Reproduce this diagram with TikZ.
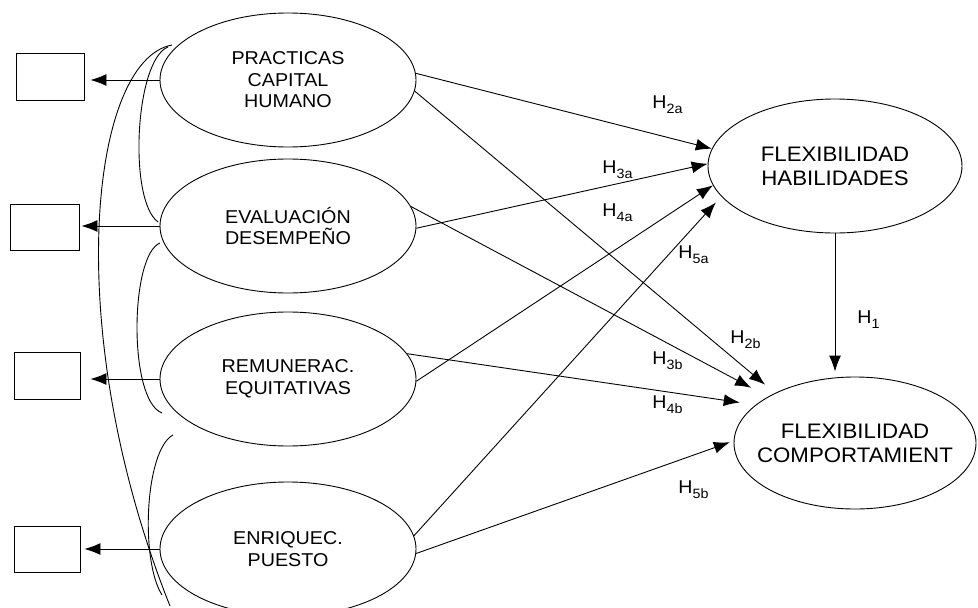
\documentclass[tikz,border=0pt]{standalone}
\usepackage{fontspec}
\setmainfont{Liberation Sans}[FakeStretch=1.06]
\usetikzlibrary{shapes.geometric,arrows.meta}

\newcommand{\hyp}[1]{H\raisebox{-5.5pt}{\fontsize{13.5}{13.5}\selectfont #1}}

\begin{document}
\begin{tikzpicture}[x=1pt,y=-1pt,line width=0.9pt,>={Latex[length=16pt,width=12pt]},
  latent/.style={draw,ellipse,inner sep=0pt,align=center,minimum width=256pt,minimum height=134pt,font=\fontsize{18.6}{21.5}\selectfont},
  outcome/.style={latent,minimum width=254pt,font=\fontsize{21}{24}\selectfont},
  indic/.style={draw,rectangle,inner sep=0pt,minimum width=66pt,minimum height=47pt},
  hlab/.style={anchor=base west,inner sep=0pt,font=\fontsize{18.5}{18.5}\selectfont}]
\useasboundingbox (0,0) rectangle (978,608);

\node[latent] (pc) at (288,80) {PRACTICAS\\CAPITAL\\HUMANO};
\node[latent] (ev) at (288,226) {EVALUACIÓN\\DESEMPEÑO};
\node[latent] (re) at (288,379) {REMUNERAC.\\EQUITATIVAS};
\node[latent] (en) at (288,549) {ENRIQUEC.\\PUESTO};
\node[outcome] (fh) at (835,166) {FLEXIBILIDAD\\HABILIDADES};
\node[outcome,inner xsep=-20pt,minimum width=242pt,minimum height=132pt] (fc) at (855,443) {FLEXIBILIDAD\\COMPORTAMIENT};

\node[indic,minimum width=68pt] (b1) at (50,76.5) {};
\node[indic,minimum width=69pt,minimum height=46pt] (b2) at (44.5,227) {};
\node[indic] (b3) at (47,375.5) {};
\node[indic,minimum height=46pt] (b4) at (47,549) {};

% indicators
\path[draw,->,shorten >=6pt] (pc.west) -- (pc.west -| b1.east);
\path[draw,->,shorten >=2pt] (ev.west) -- (ev.west -| b2.east);
\path[draw,->,shorten >=10pt] (re.west) -- (re.west -| b3.east);
\path[draw,->,shorten >=4pt] (en.west) -- (en.west -| b4.east);

% hypotheses
\path[draw,->] (pc.3) -- (fh.172);
\path[draw,->,shorten >=13pt] (pc.355) -- (fc.148);
\path[draw,->] (ev.359) -- (fh.179);
\path[draw,->,shorten >=19pt] (ev.9) -- (fc.152);
\path[draw,->] (re.359) -- (fh.189);
\path[draw,->,shorten >=16pt] (re.12) -- (fc.159);
\path[draw,->,shorten >=8pt] (en.6) -- (fh.195);
\path[draw,->,shorten >=4pt] (en.358) -- (fc.179);
\path[draw,->,shorten >=5pt] (fh.south) -- (fh.south |- fc.north);

% correlations
\coordinate (k1) at (172,45);
\coordinate (k2) at (170,606);
\coordinate (k3) at (168,47);
\coordinate (k4) at (158,222);
\coordinate (k5) at (160,243);
\coordinate (k6) at (162,413);
\coordinate (k7) at (173,435);
\coordinate (k8) at (162,595);
\draw (k1) .. controls (90,60) and (60,330) .. (k2);
\draw (k3) .. controls (135,60) and (128,200) .. (k4);
\draw (k5) .. controls (130,255) and (128,400) .. (k6);
\draw (k7) .. controls (145,450) and (140,560) .. (k8);

\node[hlab] (h2a) at (652,108) {\hyp{2a}};
\node[hlab] (h3a) at (602,173) {\hyp{3a}};
\node[hlab] (h4a) at (602,216) {\hyp{4a}};
\node[hlab] (h5a) at (678,258) {\hyp{5a}};
\node[hlab] (h2b) at (730,343) {\hyp{2b}};
\node[hlab] (h3b) at (652,364) {\hyp{3b}};
\node[hlab] (h4b) at (652,408) {\hyp{4b}};
\node[hlab] (h5b) at (678,493) {\hyp{5b}};
\node[hlab] (h1) at (857,323) {\hyp{1}};
\end{tikzpicture}
\end{document}
